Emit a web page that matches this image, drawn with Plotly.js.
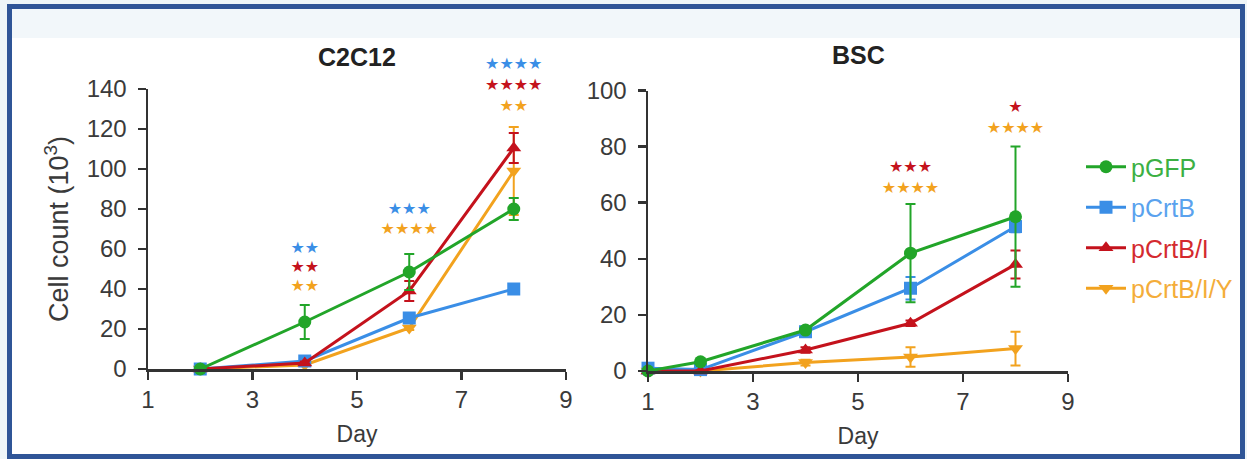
<!DOCTYPE html>
<html>
<head>
<meta charset="utf-8">
<script src="https://cdn.plot.ly/plotly-3.0.1.min.js"></script>
<style>
  html, body { margin: 0; padding: 0; background: #ffffff; }
  #chart { width: 1247px; height: 459px; }
</style>
</head>
<body>
<div id="chart"></div>
<script>
// ---------- data ----------
const seriesNames = ['pGFP', 'pCrtB', 'pCrtB/I', 'pCrtB/I/Y'];

// C2C12 panel
const c2Days = [2, 4, 6, 8];
const c2_pGFP      = [0, 23.5, 48.5, 80];
const c2_pGFP_err  = [0.5, 8.5, 9, 5.5];
const c2_pCrtB     = [0, 4, 25.5, 40];
const c2_pCrtB_err = [0.3, 1, 1.5, 1];
const c2_pCrtBI    = [0, 3, 39, 110.5];
const c2_pCrtBI_err= [0.3, 0.8, 5, 7.5];
const c2_pCrtBIY   = [0, 2, 20.5, 99];
const c2_pCrtBIY_err=[0.3, 0.5, 1, 22];

// BSC panel
const bscDays = [1, 2, 4, 6, 8];
const bsc_pGFP      = [0, 3.3, 14.6, 42, 55];
const bsc_pGFP_err  = [0.5, 0.5, 1, 17.5, 25];
const bsc_pCrtB     = [1, 0.5, 14, 29.5, 51.5];
const bsc_pCrtB_err = [0.5, 0.3, 1, 4, 2];
const bsc_pCrtBI    = [0, 0, 7.5, 17, 38];
const bsc_pCrtBI_err= [0.3, 0.3, 1, 1, 5];
const bsc_pCrtBIY   = [0, 0, 3, 5, 8];
const bsc_pCrtBIY_err=[0.3, 0.3, 1, 3.5, 6];

// significance labels (series index into seriesNames)
const c2StarDay    = [4, 4, 4, 6, 6, 8, 8, 8];
const c2StarY      = [60, 50.5, 41, 79.5, 69.5, 152, 141.5, 131];
const c2StarText   = ['★★', '★★', '★★', '★★★', '★★★★', '★★★★', '★★★★', '★★'];
const c2StarSeries = [1, 2, 3, 1, 3, 1, 2, 3];

const bscStarDay    = [6, 6, 8, 8];
const bscStarY      = [72.5, 64.8, 93.7, 86.2];
const bscStarText   = ['★★★', '★★★★', '★', '★★★★'];
const bscStarSeries = [2, 3, 2, 3];

const xTickVals = [1, 3, 5, 7, 9];
const c2YTicks = [0, 20, 40, 60, 80, 100, 120, 140];
const bscYTicks = [0, 20, 40, 60, 80, 100];

// ---------- styles ----------
const lineColors  = ['#22a529', '#3a8ee6', '#c4121c', '#f2a21e'];
const labelColors = ['#3cb043', '#5aa2ee', '#d42a2f', '#f4ad3a'];
const symbols = ['circle', 'square', 'triangle-up', 'triangle-down'];
const drawOrder = [3, 1, 2, 0];

const c2Vals = [c2_pGFP, c2_pCrtB, c2_pCrtBI, c2_pCrtBIY];
const c2Errs = [c2_pGFP_err, c2_pCrtB_err, c2_pCrtBI_err, c2_pCrtBIY_err];
const bscVals = [bsc_pGFP, bsc_pCrtB, bsc_pCrtBI, bsc_pCrtBIY];
const bscErrs = [bsc_pGFP_err, bsc_pCrtB_err, bsc_pCrtBI_err, bsc_pCrtBIY_err];

const traces = [];
drawOrder.forEach(i => {
  const base = {
    type: 'scatter', mode: 'lines+markers',
    line: {color: lineColors[i], width: 3},
    marker: {color: lineColors[i], symbol: symbols[i], size: 13},
    cliponaxis: false
  };
  traces.push(Object.assign({}, base, {
    x: c2Days, y: c2Vals[i], xaxis: 'x', yaxis: 'y',
    error_y: {type: 'data', array: c2Errs[i], visible: true, color: lineColors[i], thickness: 2, width: 5},
    name: '<span style="color:' + labelColors[i] + '">' + seriesNames[i] + '</span>',
    legendgroup: 'g' + i, legendrank: i + 1, showlegend: true
  }));
  traces.push(Object.assign({}, base, {
    x: bscDays, y: bscVals[i], xaxis: 'x2', yaxis: 'y2',
    error_y: {type: 'data', array: bscErrs[i], visible: true, color: lineColors[i], thickness: 2, width: 5},
    name: seriesNames[i], legendgroup: 'g' + i, showlegend: false
  }));
});

function starTrace(days, ys, texts, ser, xa, ya) {
  return {
    type: 'scatter', mode: 'text', x: days, y: ys, text: texts,
    textposition: 'middle center',
    textfont: {family: 'DejaVu Sans', size: 16, color: ser.map(s => lineColors[s])},
    xaxis: xa, yaxis: ya, showlegend: false, cliponaxis: false, hoverinfo: 'skip'
  };
}
// stars live on hidden axes that share the data scale but extend above the plotted range
traces.push(starTrace(c2StarDay, c2StarY, c2StarText, c2StarSeries, 'x', 'y3'));
traces.push(starTrace(bscStarDay, bscStarY, bscStarText, bscStarSeries, 'x2', 'y4'));

const axisCommon = {
  showline: true, linecolor: '#333333', linewidth: 2.5,
  ticks: 'outside', ticklen: 8, tickwidth: 2.5, tickcolor: '#333333',
  showgrid: false, zeroline: false,
  tickfont: {family: 'Liberation Sans, Arial, sans-serif', size: 24, color: '#3a3a3a'}
};

const W = 1247, H = 459;
// pixel geometry of the two panels
const c2Bottom = 369, c2Top = 89, c2Max = 140;
const bscBottom = 371, bscTop = 90.5, bscMax = 100;
const starTop = 45;
const c2StarMax = c2Max * (c2Bottom - starTop) / (c2Bottom - c2Top);
const bscStarMax = bscMax * (bscBottom - starTop) / (bscBottom - bscTop);

const layout = {
  width: W, height: H,
  margin: {l: 0, r: 0, t: 0, b: 0},
  paper_bgcolor: '#eef5f8', plot_bgcolor: 'rgba(0,0,0,0)',
  font: {family: 'Liberation Sans, Arial, sans-serif', color: '#333333'},
  showlegend: true,
  xaxis: Object.assign({}, axisCommon, {
    domain: [148 / W, 566 / W], range: [1, 9], tickvals: xTickVals, anchor: 'y',
    ticklabelstandoff: 0,
    title: {text: 'Day', font: {size: 23, color: '#3a3a3a'}, standoff: 14}
  }),
  yaxis: Object.assign({}, axisCommon, {
    domain: [1 - c2Bottom / H, 1 - c2Top / H], range: [0, c2Max], tickvals: c2YTicks, anchor: 'x',
    ticklabelstandoff: 6,
    title: {text: 'Cell count (10<sup>3</sup>)', font: {size: 27, color: '#3a3a3a'}, standoff: 10}
  }),
  yaxis3: {
    domain: [1 - c2Bottom / H, 1 - starTop / H], range: [0, c2StarMax], anchor: 'x',
    visible: false, showgrid: false, zeroline: false
  },
  xaxis2: Object.assign({}, axisCommon, {
    domain: [648 / W, 1068 / W], range: [1, 9], tickvals: xTickVals, anchor: 'y2',
    ticklabelstandoff: 0,
    title: {text: 'Day', font: {size: 23, color: '#3a3a3a'}, standoff: 14}
  }),
  yaxis2: Object.assign({}, axisCommon, {
    domain: [1 - bscBottom / H, 1 - bscTop / H], range: [0, bscMax], tickvals: bscYTicks, anchor: 'x2',
    ticklabelstandoff: 6
  }),
  yaxis4: {
    domain: [1 - bscBottom / H, 1 - starTop / H], range: [0, bscStarMax], anchor: 'x2',
    visible: false, showgrid: false, zeroline: false
  },
  legend: {
    x: 1081 / W, xanchor: 'left', y: 1 - 144 / H, yanchor: 'top',
    bgcolor: 'rgba(0,0,0,0)', traceorder: 'grouped', tracegroupgap: 5,
    font: {family: 'Liberation Sans, Arial, sans-serif', size: 25},
    itemwidth: 40
  },
  annotations: [
    {text: '<b>C2C12</b>', xref: 'x domain', x: 0.5, yref: 'paper', y: 1 - 57 / H,
     showarrow: false, xanchor: 'center', yanchor: 'middle',
     font: {family: 'Liberation Sans, Arial, sans-serif', size: 25, color: '#222222'}},
    {text: '<b>BSC</b>', xref: 'x2 domain', x: 0.5, yref: 'paper', y: 1 - 55 / H,
     showarrow: false, xanchor: 'center', yanchor: 'middle',
     font: {family: 'Liberation Sans, Arial, sans-serif', size: 25, color: '#222222'}}
  ],
  shapes: [
    {type: 'rect', xref: 'paper', yref: 'paper', layer: 'below',
     x0: 9.5 / W, x1: 1242.5 / W, y0: 1 - 456.5 / H, y1: 1 - 6.5 / H,
     fillcolor: '#ffffff', line: {color: '#2f5597', width: 5}},
    {type: 'rect', xref: 'paper', yref: 'paper', layer: 'below',
     x0: 12 / W, x1: 1240 / W, y0: 1 - 38 / H, y1: 1 - 9 / H,
     fillcolor: '#f2f7fa', line: {width: 0}}
  ]
};

Plotly.newPlot('chart', traces, layout, {displayModeBar: false, staticPlot: true});
</script>
</body>
</html>
